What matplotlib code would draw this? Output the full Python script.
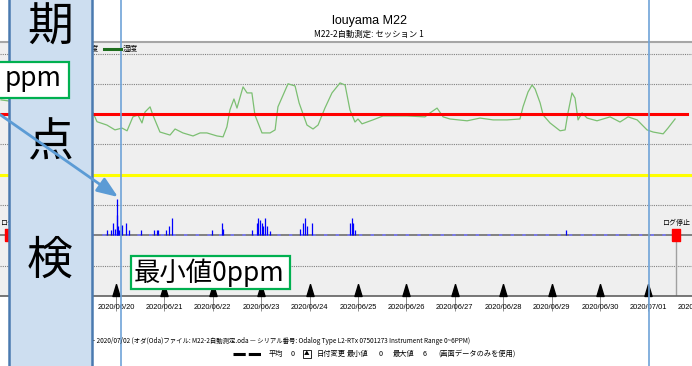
import matplotlib
matplotlib.use('Agg')
import matplotlib.pyplot as plt
import matplotlib.dates as mdates
from matplotlib import font_manager
from matplotlib.patches import Rectangle, FancyArrowPatch
from matplotlib.lines import Line2D
from matplotlib.ticker import FixedLocator
import numpy as np
import pandas as pd

# ---- data (hours from 2020/06/20 00:00)
hum_hours = [-57.0, -11.4, -9.4, -4.5, -0.5, 3.0, 5.5, 8.4, 10.9, 12.9, 14.4,
             16.9, 18.3, 21.8, 26.8, 29.3, 33.2, 38.2, 41.7, 45.1, 50.1,
             53.1, 55.0, 56.5, 58.5, 60.0, 63.0, 65.0, 67.4, 68.9, 72.4,
             76.4, 78.9, 80.3, 85.3, 88.8, 90.8, 94.7, 97.7, 100.2, 103.6,
             107.1, 111.1, 113.6, 116.0, 118.5, 120.0, 122.0, 127.4, 132.4, 144.3,
             153.2, 155.7, 159.2, 162.2, 165.6, 174.1, 180.5, 187.0, 193.9, 200.3,
             201.8, 204.3, 206.3, 207.8, 210.3, 211.8, 215.2, 220.2, 222.7, 224.1,
             226.1, 227.6, 229.1, 231.1, 233.6, 238.5, 245.0, 249.9, 253.9, 258.4,
             263.3, 266.3, 271.3, 273.7, 277.2]
hum_values = [64.7, 60.5, 57.5, 56.4, 54.8, 55.4, 54.5, 59.1, 59.7, 57.1, 60.7,
              62.4, 59.7, 54.1, 53.1, 55.1, 53.8, 52.8, 53.8, 53.8, 52.8,
              52.5, 55.8, 61.4, 65.0, 62.0, 69.0, 67.0, 67.0, 59.7, 53.8,
              53.8, 54.8, 62.4, 70.0, 69.3, 63.7, 56.4, 55.1, 56.4, 62.0,
              67.0, 70.3, 69.6, 61.4, 57.4, 58.4, 56.8, 58.1, 59.4, 59.4,
              59.1, 60.4, 62.0, 59.1, 58.4, 57.8, 58.7, 58.1, 58.1, 58.4,
              62.4, 67.3, 69.6, 68.3, 63.7, 59.7, 57.1, 54.5, 54.8, 60.4,
              67.0, 65.3, 58.1, 60.4, 58.7, 57.8, 59.1, 57.4, 59.1, 58.1,
              54.8, 54.1, 53.5, 55.4, 58.4]

spike_hours = [-4.5, -2.6, -1.3, -0.5, 0.3, 0.7, 1.1, 1.6, 2.8, 5.0,
               6.6, 12.2, 18.8, 20.2, 21.0, 24.8, 26.4, 27.9, 47.4, 52.4,
               53.2, 67.3, 69.8, 70.6, 71.4, 72.3, 73.1, 73.9, 74.7, 76.4,
               91.2, 92.6, 93.7, 94.6, 97.1, 116.0, 116.9, 117.7, 118.5, 223.0]
spike_ppm = [0.9, 0.9, 2.0, 1.0, 3.3, 6.0, 1.5, 0.9, 1.7, 2.0,
             0.9, 0.9, 0.9, 0.9, 0.9, 0.9, 1.5, 2.8, 0.9, 2.0,
             1.0, 0.9, 2.0, 2.8, 2.5, 2.1, 1.5, 2.8, 1.5, 0.8,
             1.0, 2.0, 2.8, 1.5, 2.0, 2.0, 2.8, 2.0, 0.9, 0.9]

log_hours = [-53.1, 277.7]
log_labels = ['ログ開始', 'ログ停止']
cursor_hours = [2.5, 264.3]
red_level = 60
yellow_level = 40
grid_levels = [10, 30, 50, 70, 80]
day_ticks = pd.date_range('2020-06-20', '2020-07-02')

title = 'louyama M22'
subtitle = 'M22-2自動測定: セッション 1'
footer1 = ('- 2020/07/02 (オダ(Oda)ファイル: M22-2自動測定.oda — シリアル番号: '
           'Odalog Type L2-RTx 07501273 Instrument Range 0~6PPM)')

# ---- fonts
names = {f.name for f in font_manager.fontManager.ttflist}
if 'Liberation Sans Narrow' in names:
    narrow, date_size = 'Liberation Sans Narrow', 6.5
else:
    narrow, date_size = 'Liberation Sans', 5.4
cjk = ['Noto Sans CJK JP', 'DejaVu Sans']

W, H = 692, 366
def fx(px):
    return px / W
def fy(py):
    return 1 - py / H

t0 = pd.Timestamp('2020-06-20')
def to_time(hours):
    return (t0 + pd.to_timedelta(np.asarray(hours, dtype=float), unit='h')).to_numpy()

fig = plt.figure(figsize=(6.92, 3.66), dpi=100)
ax = fig.add_axes([0, fy(296), 1, (296 - 42) / H])
ax.set_facecolor('#efefef')
ax.set_xlim(to_time([-57.5, 285.6]))
ax.set_ylim(0, 83.8)
ax.set_yticks([])
for s in ['left', 'right']:
    ax.spines[s].set_visible(False)
ax.spines['top'].set_color('#a6a6a6')
ax.spines['top'].set_linewidth(1.5)
ax.spines['bottom'].set_color('#606060')
ax.spines['bottom'].set_linewidth(1.2)

ax.xaxis.set_major_locator(FixedLocator(mdates.date2num(day_ticks.to_numpy())))
ax.xaxis.set_major_formatter(mdates.DateFormatter('%Y/%m/%d'))
ax.tick_params(axis='x', length=11, width=0.6, color='#808080', pad=-5,
               labelsize=date_size, labelfontfamily=narrow)
# the last date sits past the right edge; only its start shows
ax.annotate(day_ticks[-1].strftime('%Y/%m/%d'), (day_ticks[-1].to_numpy(), 0),
            xytext=(0, -6), textcoords='offset points', ha='center', va='top',
            fontsize=date_size, family=narrow, annotation_clip=False)

# grid / thresholds
for lv in grid_levels:
    ax.axhline(lv, color='#808080', lw=0.8, ls=(0, (1, 1)), zorder=1)
ax.axhline(20, color='#808080', lw=1.4, zorder=1)
ax.axhline(yellow_level, color='#ffff00', lw=2.2, zorder=3)
ax.plot(to_time([-57.5, 283.0]), [red_level, red_level], color='#ff0000', lw=2.2, zorder=3)

# humidity line
ax.plot(to_time(hum_hours), hum_values, color='#7cbf72', lw=0.9, zorder=2)

# date change triangles
tri = [(0, 1), (-0.6, -1), (0.6, -1), (0, 1)]
ax.plot(day_ticks[:-1], [0.024] * (len(day_ticks) - 1), transform=ax.get_xaxis_transform(),
        marker=tri, ms=8.6, color='black', ls='none', clip_on=False, zorder=4)

# log start/stop stems
for h in log_hours:
    ax.plot(to_time([h, h]), [0, 20], color='#a0a0a0', lw=1.0, zorder=2)

# ppm panel on its own scale (0 ppm sits on the 20 line)
ax2 = ax.twinx()
ax2.set_ylim(-10, 31.9)
ax2.axis('off')
ax2.plot(to_time([log_hours[0], log_hours[1]]), [0, 0], color='#7878ff', lw=1.2, ls=(0, (2, 5)))
ax2.vlines(to_time(spike_hours), 0, spike_ppm, color='#0000ff', lw=0.9)
rect = [(-0.7, -1), (0.7, -1), (0.7, 1), (-0.7, 1), (-0.7, -1)]
ax2.plot(to_time(log_hours), [0, 0], marker=rect, ms=8, color='#ff0000', ls='none', zorder=5)
ax2.annotate(log_labels[0], (0, 0), xycoords=('figure pixels', 'data'), xytext=(0, 6),
             textcoords='offset points', ha='left', va='bottom', fontsize=5, family=cjk,
             annotation_clip=False)
ax2.annotate(log_labels[1], (to_time([log_hours[1]])[0], 0), xytext=(0, 6),
             textcoords='offset points', ha='center', va='bottom', fontsize=5, family=cjk,
             annotation_clip=False)

# cursor lines over the whole picture
for h in cursor_hours:
    ax.plot(to_time([h, h]), [-0.28, 1.17], transform=ax.get_xaxis_transform(),
            color='#6fa3d8', lw=1.2, clip_on=False, zorder=10)

# titles / legend / footer
fig.text(fx(369), fy(21), title, ha='center', va='center', fontsize=9, family=narrow)
fig.text(fx(369), fy(34), subtitle, ha='center', va='center', fontsize=6, family=cjk)
fig.text(fx(99), fy(49), '温度', ha='right', va='center', fontsize=5.5, family=cjk, zorder=0.5)
fig.add_artist(Line2D([fx(104), fx(121)], [fy(49), fy(49)], color='#1e6e1e', lw=2.2,
                      transform=fig.transFigure))
fig.text(fx(123), fy(49), '湿度', ha='left', va='center', fontsize=5.5, family=cjk)

fig.text(fx(93), fy(341), footer1, ha='left', va='center', fontsize=4.6, family=cjk)
fig.add_artist(Line2D([fx(233), fx(262)], [fy(354), fy(354)], color='black', lw=2.2,
                      ls=(0, (4, 1)), transform=fig.transFigure))
vmin, vmax = 0, max(spike_ppm)
footer2 = [(269, '平均'), (291, '0'), (317, '日付変更'), (347, '最小値'), (379, f'{vmin:g}'),
           (393, '最大値'), (423, f'{vmax:g}'), (438, '(画面データのみを使用)')]
for px, s in footer2:
    fig.text(fx(px), fy(354), s, ha='left', va='center', fontsize=5.2, family=cjk)
fig.text(fx(307), fy(354), '▲', ha='center', va='center', fontsize=4, family=cjk,
         bbox=dict(boxstyle='square,pad=0.25', fc='white', ec='black', lw=0.6))

# ---- overlay: left blue panel with vertical text
fig.add_artist(Rectangle((fx(8.5), -0.05), fx(83), 1.1, transform=fig.transFigure,
                         fc='#cddef0', ec='#4a7ab0', lw=1.8, zorder=1))
for py, ch in [(27, '期'), (143, '点'), (260, '検')]:
    fig.text(fx(50), fy(py), ch, ha='center', va='center', fontsize=33, family=cjk, zorder=3)

# arrow
fig.add_artist(FancyArrowPatch((fx(-8), fy(109)), (fx(118), fy(197)), transform=fig.transFigure,
                               arrowstyle='-|>,head_length=0.9,head_width=0.35', mutation_scale=14,
                               color='#5b9bd5', lw=2, shrinkA=0, shrinkB=0, zorder=3.5))

# callout boxes
fig.add_artist(Rectangle((fx(-5), fy(98)), fx(74), 36 / H, transform=fig.transFigure,
                         fc='white', ec='#00b050', lw=1.6, zorder=4))
fig.text(fx(5), fy(86), 'ppm', ha='left', va='baseline', fontsize=19, family=cjk, zorder=5)
fig.add_artist(Rectangle((fx(131), fy(289)), fx(159), 33 / H, transform=fig.transFigure,
                         fc='white', ec='#00b050', lw=1.6, zorder=4))
fig.text(fx(134), fy(281), '最小値0ppm', ha='left', va='baseline', fontsize=19, family=cjk, zorder=5)

fig.savefig('out.png', dpi=100)
